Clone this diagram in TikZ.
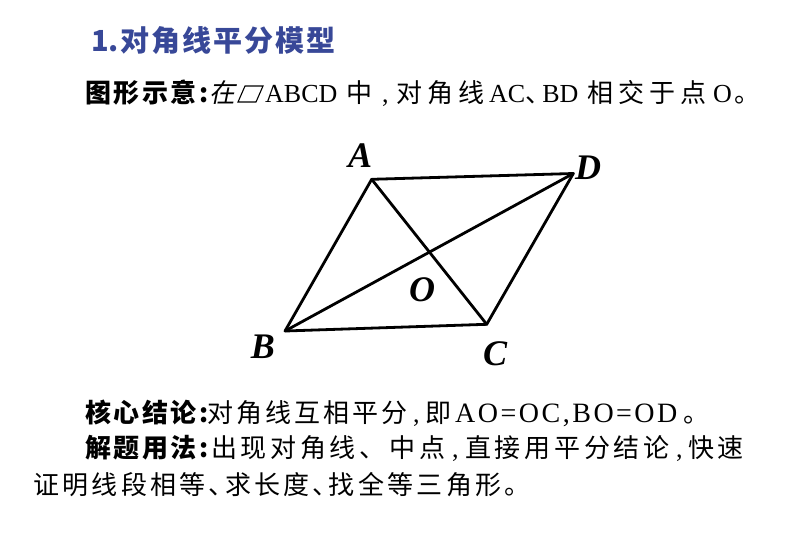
\documentclass[tikz,border=0pt]{standalone}
\usepackage{fontspec}
\setmainfont{Liberation Serif}
\newfontfamily\cjkfont{Noto Sans CJK SC}
\newfontfamily\cjkslant[FakeSlant=0.2]{Noto Sans CJK SC}
\definecolor{titleblue}{RGB}{56,72,152}
\makeatletter
\newcommand\cjrow[2]{\@tfor\cjch:=#2\do{\makebox[#1][l]{\cjch}}}
\newcommand\ltrow[2]{\@tfor\ltch:=#2\do{\ltch\hspace{#1}}}
\makeatother
\tikzset{
  cjk/.style={inner sep=0pt, anchor=base west, font=\cjkfont\fontsize{26}{30}\selectfont},
  lat/.style={inner sep=0pt, anchor=base west, font=\rmfamily\fontsize{26}{30}\selectfont},
  ttl/.style={inner sep=0pt, anchor=base west, text=titleblue, font=\cjkfont\bfseries\fontsize{29}{32}\selectfont},
  lab/.style={inner sep=0pt, font=\rmfamily\bfseries\itshape\fontsize{36}{36}\selectfont},
  edge/.style={line width=2.8pt, line join=round, line cap=round},
}
\begin{document}
\begin{tikzpicture}[x=1pt, y=-1pt]
\fill[white] (0,0) rectangle (802,539);
\useasboundingbox (0,0) rectangle (802,539);

% title
\node[ttl] (t1a) at (91,51) {1.};
\node[ttl] (t1b) at (120,51) {\cjrow{31pt}{对角线平分模型}};

% line 2
\node[cjk] (t2a) at (85,102) {\bfseries\cjrow{28.5pt}{图形示意}:};
\node[cjk, font=\cjkslant\fontsize{26}{30}\selectfont] (t2b) at (209,102) {在};
\draw[line width=1.1pt, line join=miter] (238,102) -- (256,102) -- (263,86) -- (245,86) -- cycle;
\node[lat] (t2c) at (265,102) {ABCD};
\node[cjk] (t2d) at (346,102) {中};
\node[lat] (t2e) at (382,102) {,};
\node[cjk] (t2f) at (396,102) {\cjrow{31pt}{对角线}};
\node[cjk] (t2g) at (489,102) {{\rmfamily AC}\makebox[17pt][l]{、}{\rmfamily BD}};
\node[cjk] (t2j) at (587,102) {\cjrow{31pt}{相交于点}};
\node[lat] (t2k) at (713,102) {O};
\node[cjk] (t2l) at (734,102) {。};

% figure
\coordinate (A) at (371.7,179.3);
\coordinate (B) at (285,331);
\coordinate (C) at (486.7,324.3);
\coordinate (D) at (573.3,173.5);
\draw[edge] (A) -- (D) -- (C) -- (B) -- cycle;
\draw[edge] (A) -- (C);
\draw[edge] (B) -- (D);
\node[lab] (la) at (360,156) {A};
\node[lab] (ld) at (588,168) {D};
\node[lab] (lb) at (263,347) {B};
\node[lab] (lc) at (495,354) {C};
\node[lab] (lo) at (422,290) {O};

% line 3
\node[cjk] (t3a) at (85,422) {\bfseries\cjrow{28.5pt}{核心结论}:};
\node[cjk] (t3b) at (207,422) {\cjrow{29pt}{对角线互相平分}};
\node[lat] (t3c) at (413,422) {,};
\node[cjk] (t3d) at (425,422) {即};
\node[lat, font=\rmfamily\fontsize{28}{30}\selectfont] (t3e) at (455,422) {\ltrow{2.5pt}{AO=OC,BO=OD}};
\node[cjk] (t3f) at (683,422) {。};

% line 4
\node[cjk] (t4a) at (85,457) {\bfseries\cjrow{28.5pt}{解题用法}:};
\node[cjk] (t4b) at (211,457) {\cjrow{29.7pt}{出现对角线、中点}};
\node[lat] (t4c) at (452,457) {,};
\node[cjk] (t4d) at (465,457) {\cjrow{29.7pt}{直接用平分结论}};
\node[lat] (t4e) at (676,457) {,};
\node[cjk] (t4f) at (688,457) {\cjrow{29.7pt}{快速}};

% line 5
\node[cjk] (t5a) at (33,494) {\cjrow{29.3pt}{证明线段相等}\makebox[16pt][l]{、}\cjrow{29.3pt}{求长度}\makebox[16pt][l]{、}\cjrow{29.3pt}{找全等三角形。}};
\end{tikzpicture}
\end{document}
